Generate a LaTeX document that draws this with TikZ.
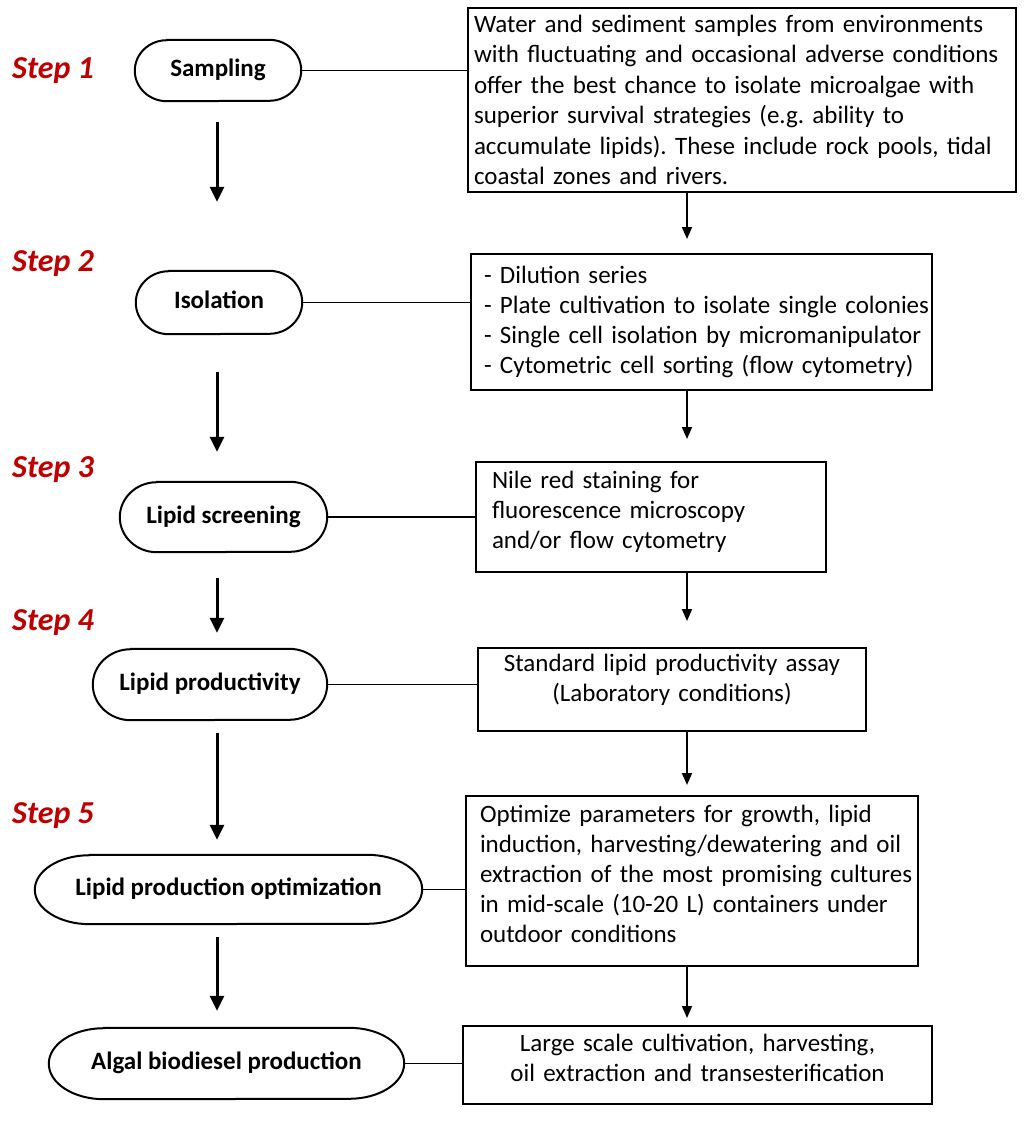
\documentclass[tikz,border=0pt]{standalone}
\usepackage{fontspec}
\setmainfont{Carlito}
\usetikzlibrary{arrows.meta}
\definecolor{stepred}{RGB}{192,0,0}
\frenchspacing
\newcommand{\pillshape}[3]{%
  \draw[pillline] ([xshift=#2]#1.north west) -- ([xshift=-#2]#1.north east)
    arc[start angle=90, end angle=-90, x radius=#2, y radius=#3]
    -- ([xshift=#2]#1.south west)
    arc[start angle=270, end angle=90, x radius=#2, y radius=#3] -- cycle;}
\begin{document}
\begin{tikzpicture}[x=1pt,y=-1pt,
  every node/.style={font=\fontsize{25}{30}\selectfont},
  steplabel/.style={anchor=base west, inner sep=0pt, text=stepred,
    font=\fontsize{32}{38}\selectfont\bfseries\itshape},
  pillnode/.style={inner sep=0pt, text height=17.5pt, text depth=5.5pt,
    font=\fontsize{25}{30}\selectfont\bfseries},
  pillline/.style={line width=2pt},
  infobox/.style={draw, line width=2pt, inner ysep=0pt},
  conn/.style={line width=1.8pt},
  bigarrow/.style={line width=3pt, -{Triangle[width=14pt,length=15pt]}},
  smallarrow/.style={line width=1.8pt, -{Triangle[width=10pt,length=12pt]}}]
\useasboundingbox (0,0) rectangle (1024,1122);

% step labels
\node[steplabel] (s1) at (12,78) {Step 1};
\node[steplabel] (s2) at (12,271) {Step 2};
\node[steplabel] (s3) at (12,477) {Step 3};
\node[steplabel] (s4) at (12,630) {Step 4};
\node[steplabel] (s5) at (12,823) {Step 5};

% left process nodes
\node[pillnode, minimum width=166pt, minimum height=61pt] (n1) at (218,70.5) {Sampling};
\node[pillnode, minimum width=166pt, minimum height=63pt] (n2) at (219,302.5) {Isolation};
\node[pillnode, minimum width=207pt, minimum height=70pt] (n3) at (223.5,517) {Lipid screening};
\node[pillnode, minimum width=234pt, minimum height=71pt] (n4) at (210,684.5) {Lipid productivity};
\node[pillnode, minimum width=387pt, minimum height=69pt] (n5) at (228.5,889.5) {Lipid production optimization};
\node[pillnode, minimum width=355pt, minimum height=71pt] (n6) at (226.5,1063.5) {Algal biodiesel production};
\pillshape{n1}{32pt}{30.5pt}
\pillshape{n2}{33pt}{31.5pt}
\pillshape{n3}{37pt}{35pt}
\pillshape{n4}{38pt}{35.5pt}
\pillshape{n5}{55pt}{34.5pt}
\pillshape{n6}{55pt}{35.5pt}

% right description boxes
\node[infobox, minimum width=548pt, minimum height=184pt, text width=536pt, inner xsep=6pt, align=left,
  font=\fontsize{25}{30.5}\selectfont] (b1) at (742,100)
 {\mbox{Water and sediment samples from environments}\\
  \mbox{with fluctuating and occasional adverse conditions}\\
  \mbox{offer the best chance to isolate microalgae with}\\
  \mbox{superior survival strategies (e.g. ability to}\\
  \mbox{accumulate lipids). These include rock pools, tidal}\\
  \mbox{coastal zones and rivers.}};
\node[infobox, minimum width=461pt, minimum height=136pt, text width=435pt, inner xsep=13pt, align=left] (b2) at (701.5,322)
 {\mbox{- Dilution series}\\
  \mbox{- Plate cultivation to isolate single colonies}\\
  \mbox{- Single cell isolation by micromanipulator}\\
  \mbox{- Cytometric cell sorting (flow cytometry)}};
\node[infobox, minimum width=350pt, minimum height=110pt, text width=318pt, inner xsep=16pt, align=left] (b3) at (651,517)
 {\mbox{Nile red staining for}\\
  \mbox{fluorescence microscopy}\\
  \mbox{and/or flow cytometry}\rule[-15pt]{0pt}{15pt}};
\node[infobox, minimum width=388pt, minimum height=83pt, text width=372pt, inner xsep=8pt, align=center] (b4) at (672,689.5)
 {Standard lipid productivity assay\\
  (Laboratory conditions)\rule[-23pt]{0pt}{23pt}};
\node[infobox, minimum width=452pt, minimum height=170pt, text width=424pt, inner xsep=14pt, align=left] (b5) at (692,881)
 {\mbox{Optimize parameters for growth, lipid}\\
  \mbox{induction, harvesting/dewatering and oil}\\
  \mbox{extraction of the most promising cultures}\\
  \mbox{in mid-scale (10-20 L) containers under}\\
  \mbox{outdoor conditions}\rule[-14pt]{0pt}{14pt}};
\node[infobox, minimum width=469pt, minimum height=78pt, text width=453pt, inner xsep=8pt, align=center] (b6) at (697.5,1065)
 {Large scale cultivation, harvesting,\\
  oil extraction and transesterification\rule[-14pt]{0pt}{14pt}};

% horizontal connectors
\draw[conn] (n1.east) -- (n1.east -| b1.west);
\draw[conn] (n2.east) -- (n2.east -| b2.west);
\draw[conn] (n3.east) -- (n3.east -| b3.west);
\draw[conn] (n4.east) -- (n4.east -| b4.west);
\draw[conn] (n5.east) -- (n5.east -| b5.west);
\draw[conn] (n6.east) -- (n6.east -| b6.west);

% left arrows
\coordinate (lcol) at (217,0);
\draw[bigarrow, shorten <=21pt, shorten >=69pt] (lcol |- n1.south) -- (lcol |- n2.north);
\draw[bigarrow, shorten <=38pt, shorten >=30pt] (lcol |- n2.south) -- (lcol |- n3.north);
\draw[bigarrow, shorten <=26pt, shorten >=16pt] (lcol |- n3.south) -- (lcol |- n4.north);
\draw[bigarrow, shorten <=13pt, shorten >=15pt] (lcol |- n4.south) -- (lcol |- n5.north);
\draw[bigarrow, shorten <=13pt, shorten >=17pt] (lcol |- n5.south) -- (lcol |- n6.north);

% right arrows
\coordinate (rcol) at (687,0);
\draw[smallarrow, shorten >=14pt] (rcol |- b1.south) -- (rcol |- b2.north);
\draw[smallarrow, shorten >=22pt] (rcol |- b2.south) -- (rcol |- b3.north);
\draw[smallarrow, shorten >=26pt] (rcol |- b3.south) -- (rcol |- b4.north);
\draw[smallarrow, shorten >=10pt] (rcol |- b4.south) -- (rcol |- b5.north);
\draw[smallarrow, shorten >=7pt] (rcol |- b5.south) -- (rcol |- b6.north);
\end{tikzpicture}
\end{document}
